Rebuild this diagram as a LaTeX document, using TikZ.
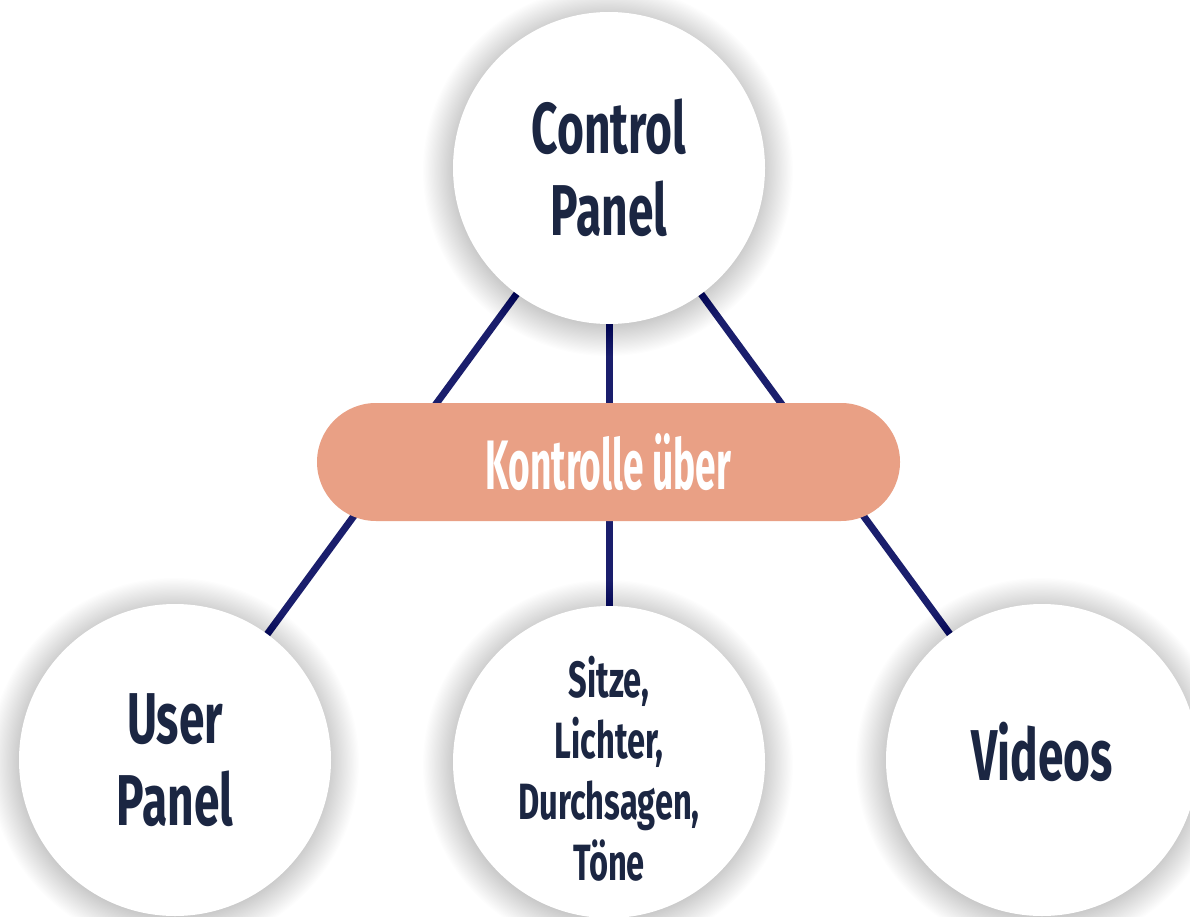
\documentclass[tikz,border=0pt]{standalone}
\usepackage{fontspec}
\newfontfamily\dinfont[FakeStretch=0.64]{Fira Sans}
\newfontfamily\dinnarrow[FakeStretch=0.53]{Fira Sans}
\usetikzlibrary{backgrounds}
\definecolor{ink}{HTML}{1B2642}
\definecolor{wire}{HTML}{1A1E6C}
\definecolor{salmon}{HTML}{E9A085}
\tikzset{
  topic/.style={circle, fill=white, minimum size=312pt, inner sep=0pt},
  caption/.style={text=ink, align=center, inner sep=0pt,
    font=\dinfont\bfseries\fontsize{72}{82}\selectfont},
  smallcaption/.style={caption, font=\dinfont\bfseries\fontsize{51}{61}\selectfont},
  hub/.style={rectangle, rounded corners=59pt, fill=salmon,
    minimum width=583pt, minimum height=118pt, inner sep=0pt,
    text=white, font=\dinnarrow\bfseries\fontsize{70}{80}\selectfont},
  link/.style={draw=wire, line width=7pt},
  haze/.style={fill=black, fill opacity=0.0095}
}
\begin{document}
\begin{tikzpicture}[x=1pt, y=-1pt]
  \useasboundingbox (0,0) rectangle (1190,917);

  % the four topics
  \node[topic, label={[caption]center:{Control\\Panel}}] (control) at (609,168) {};
  \node[topic, label={[caption]center:{User\\Panel}}] (user) at (175,760) {};
  \node[topic, label={[smallcaption, yshift=-7pt]center:{Sitze,\\Lichter,\\Durchsagen,\\Töne}}] (items) at (609,762) {};
  \node[topic, label={[caption, yshift=8pt]center:{Videos}}] (videos) at (1042,760) {};

  % white page, connectors, then soft shadows, all behind the topics
  \begin{scope}[on background layer]
    \fill[white] (0,0) rectangle (1190,917);
    \draw[link] (control.center) -- (user.center);
    \draw[link] (control.center) -- (items.center);
    \draw[link] (control.center) -- (videos.center);
    \foreach \n in {control,user,items,videos}{
      \foreach \k in {0,...,30}{
        \pgfmathsetmacro{\rad}{149+1.2*\k}
        \fill[haze] ([shift={(-1,3)}]\n.center) circle[radius=\rad pt];
      }
    }
  \end{scope}

  % label across the connectors
  \node[hub] (label) at (608.5,462) {Kontrolle über};
\end{tikzpicture}
\end{document}
